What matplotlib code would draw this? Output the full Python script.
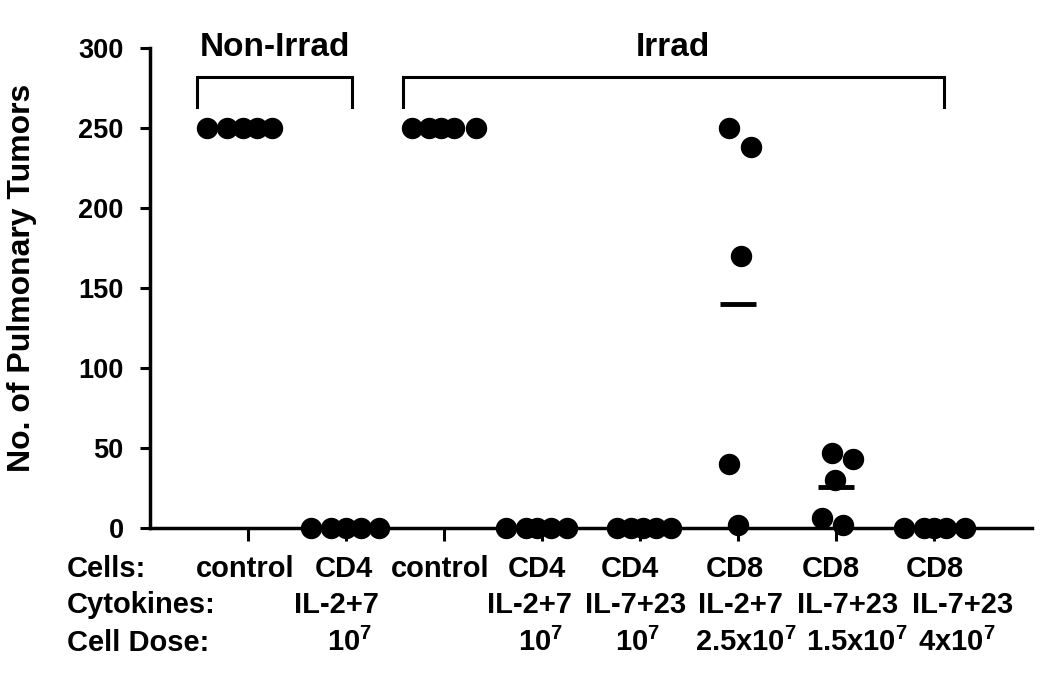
import numpy as np
import matplotlib
matplotlib.use("Agg")
import matplotlib.pyplot as plt
import matplotlib.transforms as mtransforms

################################################################################
# style ----
################################################################################

plt.rcParams['font.family'] = ['Liberation Sans', 'DejaVu Sans']
plt.rcParams['font.weight'] = 'bold'
plt.rcParams['mathtext.fontset'] = 'custom'
plt.rcParams['mathtext.rm'] = 'Liberation Sans:bold'
plt.rcParams['mathtext.it'] = 'Liberation Sans:bold'
plt.rcParams['mathtext.bf'] = 'Liberation Sans:bold'

################################################################################
# data ----
################################################################################

cells = ['control', 'CD4', 'control', 'CD4', 'CD4', 'CD8', 'CD8', 'CD8']
cytokines = ['', 'IL-2+7', '', 'IL-2+7', 'IL-7+23', 'IL-2+7', 'IL-7+23', 'IL-7+23']
doses = ['', '10$^{7}$', '', '10$^{7}$', '10$^{7}$',
         '2.5x10$^{7}$', '1.5x10$^{7}$', '4x10$^{7}$']

tumors = [
    [250, 250, 250, 250, 250],
    [0, 0, 0, 0, 0],
    [250, 250, 250, 250, 250],
    [0, 0, 0, 0, 0],
    [0, 0, 0, 0, 0],
    [250, 238, 170, 40, 2],
    [47, 43, 30, 6, 2],
    [0, 0, 0, 0, 0],
]
# horizontal scatter of the dots inside each group
x_jitter = [
    [-0.42, -0.21, -0.05, 0.09, 0.24],
    [-0.36, -0.15, 0.0, 0.15, 0.34],
    [-0.33, -0.15, -0.03, 0.10, 0.33],
    [-0.37, -0.16, -0.05, 0.09, 0.26],
    [-0.23, -0.09, 0.03, 0.16, 0.32],
    [-0.09, 0.13, 0.03, -0.09, 0.0],
    [-0.04, 0.17, -0.01, -0.14, 0.07],
    [-0.31, -0.10, 0.0, 0.12, 0.32],
]
show_mean = [False, False, False, False, False, True, True, False]

groups = ['Non-Irrad', 'Irrad']
group_span = [(0.48, 2.06), (2.58, 8.10)]

# label nudges (data units) so the table text sits like the original
cyto_shift = [0, -0.10, 0, -0.13, -0.05, 0.02, 0.12, 0.29]
dose_shift = [0, 0.04, 0, -0.01, -0.03, 0.08, 0.21, 0.23]
cell_shift = [-0.03, -0.02, -0.04, -0.05, -0.10, -0.03, -0.05, 0.01]

################################################################################
# plot ----
################################################################################

fig = plt.figure(figsize=(10.5, 6.75), dpi=100)
ax = fig.add_axes([150 / 1050, 1 - 528 / 675, 882 / 1050, 480 / 675])

pos = np.arange(1, len(cells) + 1)
for i, vals in enumerate(tumors):
    xs = pos[i] + np.array(x_jitter[i])
    ax.plot(xs, vals, 'o', color='black', markersize=14.4, clip_on=False,
            zorder=5)
    if show_mean[i]:
        m = np.mean(vals)
        ax.plot([pos[i] - 0.18, pos[i] + 0.18], [m, m], color='black',
                lw=3.5, solid_capstyle='butt', zorder=6)

ax.set_xlim(0, 9)
ax.set_ylim(0, 300)
ax.set_yticks(np.arange(0, 301, 50))
ax.set_xticks(pos)
ax.set_xticklabels([])
ax.tick_params(axis='y', direction='out', length=7, width=2.2, labelsize=19.5,
               pad=12)
ax.tick_params(axis='x', direction='out', length=9, width=2.2)
for lab in ax.get_yticklabels():
    lab.set_fontweight('bold')
for s in ['top', 'right']:
    ax.spines[s].set_visible(False)
for s in ['left', 'bottom']:
    ax.spines[s].set_linewidth(2.5)

# brackets for irradiated / non irradiated groups
for name, (x0, x1) in zip(groups, group_span):
    ax.plot([x0, x0, x1, x1], [263, 282, 282, 263], color='black', lw=2.2,
            clip_on=False, solid_joinstyle='miter')
    ax.text((x0 + x1) / 2, 295, name, ha='center', va='baseline',
            fontsize=24, fontweight='bold')

fig.text(22 / 1050, 1 - 278 / 675, 'No. of Pulmonary Tumors', rotation=90,
         ha='center', va='center', fontsize=23, fontweight='bold')

# table under the axis
trans = mtransforms.blended_transform_factory(ax.transData, fig.transFigure)
rows_y = [1 - 577 / 675, 1 - 613 / 675, 1 - 651 / 675]
headers = ['Cells:', 'Cytokines:', 'Cell Dose:']
for h, y in zip(headers, rows_y):
    fig.text(67 / 1050, y, h, ha='left', va='baseline', fontsize=21,
             fontweight='bold')
for i in range(len(cells)):
    ax.text(pos[i] + cell_shift[i], rows_y[0], cells[i], transform=trans,
            ha='center', va='baseline', fontsize=21, fontweight='bold')
    ax.text(pos[i] + cyto_shift[i], rows_y[1], cytokines[i], transform=trans,
            ha='center', va='baseline', fontsize=21, fontweight='bold')
    ax.text(pos[i] + dose_shift[i], rows_y[2], doses[i], transform=trans,
            ha='center', va='baseline', fontsize=21, fontweight='bold')

fig.savefig('out.png', dpi=100)
